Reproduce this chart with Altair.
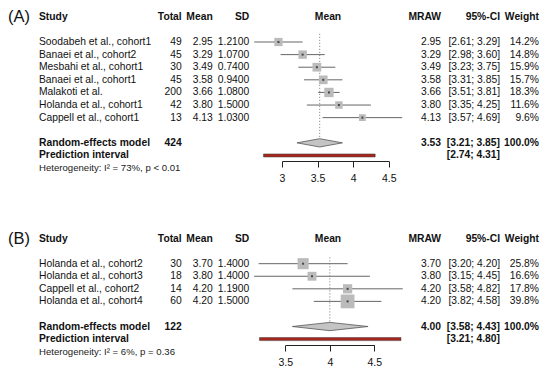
import altair as alt
import pandas as pd

FONT = "Liberation Sans"
FS = 10.3

# ---------------- Panel A data ----------------
studies_A = ["Soodabeh et al., cohort1", "Banaei et al., cohort2", "Mesbahi et al., cohort1",
             "Banaei et al., cohort1", "Malakoti et al.", "Holanda et al., cohort1",
             "Cappell et al., cohort1"]
total_A = [49, 45, 30, 45, 200, 42, 13]
mean_A = [2.95, 3.29, 3.49, 3.58, 3.66, 3.80, 4.13]
sd_A = [1.2100, 1.0700, 0.7400, 0.9400, 1.0800, 1.5000, 1.0300]
lo_A = [2.61, 2.98, 3.23, 3.31, 3.51, 3.35, 3.57]
hi_A = [3.29, 3.60, 3.75, 3.85, 3.81, 4.25, 4.69]
weight_A = [14.2, 14.8, 15.9, 15.7, 18.3, 11.6, 9.6]
summary_A = {"total": 424, "est": 3.53, "lo": 3.21, "hi": 3.85, "pi_lo": 2.74, "pi_hi": 4.31,
             "het": "Heterogeneity: I² = 73%, p < 0.01"}
ticks_A = [3, 3.5, 4, 4.5]

# ---------------- Panel B data ----------------
studies_B = ["Holanda et al., cohort2", "Holanda et al., cohort3", "Cappell et al., cohort2",
             "Holanda et al., cohort4"]
total_B = [30, 18, 14, 60]
mean_B = [3.70, 3.80, 4.20, 4.20]
sd_B = [1.4000, 1.4000, 1.1900, 1.5000]
lo_B = [3.20, 3.15, 3.58, 3.82]
hi_B = [4.20, 4.45, 4.82, 4.58]
weight_B = [25.8, 16.6, 17.8, 39.8]
summary_B = {"total": 122, "est": 4.00, "lo": 3.58, "hi": 4.43, "pi_lo": 3.21, "pi_hi": 4.80,
             "het": "Heterogeneity: I² = 6%, p = 0.36"}
ticks_B = [3.5, 4, 4.5]

W = 532
X_STUDY, X_TOTAL, X_MEAN, X_SD = 31, 173.7, 204.7, 241.3
X_FHEAD, X_MRAW, X_CI, X_WEIGHT = 320, 433, 492, 531


def panel(tag, studies, total, mean, sd, lo, hi, weight, summ, ticks,
          xdomain, xrange, ydomain, height, dot_top, size_max):
    n = len(studies)
    r_re, r_pi, r_het = n + 1, n + 2, n + 3.0
    ysc = alt.Scale(domain=ydomain, reverse=True, nice=False, zero=False)
    xsc = alt.Scale(domain=xdomain, range=xrange, nice=False, zero=False)
    ax = alt.Axis(values=ticks, format="~g", tickSize=6, labelPadding=6, domainColor="#222",
                  tickColor="#222", labelColor="#111", labelFont=FONT, labelFontSize=10.5,
                  grid=False, title=None, labelFlush=False, domainWidth=1, tickWidth=1)

    def X(f):
        return alt.X(f"{f}:Q", scale=xsc, axis=ax)

    def Y(f="r"):
        return alt.Y(f"{f}:Q", scale=ysc, axis=None)

    rows = pd.DataFrame({
        "r": list(range(n)),
        "study": studies,
        "total": [str(t) for t in total],
        "mn": [f"{m:.2f}" for m in mean],
        "sd": [f"{s:.4f}" for s in sd],
        "mraw": [f"{m:.2f}" for m in mean],
        "ci": [f"[{a:.2f}; {b:.2f}]" for a, b in zip(lo, hi)],
        "wtxt": [f"{w:.1f}%" for w in weight],
        "est": mean, "lo": lo, "hi": hi, "w": weight,
    })
    head = pd.DataFrame({"r": [-2], "study": ["Study"], "total": ["Total"], "mn": ["Mean"],
                         "sd": ["SD"], "fmean": ["Mean"], "mraw": ["MRAW"], "ci": ["95%-CI"],
                         "wtxt": ["Weight"], "tag": [tag]})
    stext = pd.DataFrame({
        "r": [r_re, r_pi],
        "study": ["Random-effects model", "Prediction interval"],
        "total": [str(summ["total"]), ""],
        "mraw": [f"{summ['est']:.2f}", ""],
        "ci": [f"[{summ['lo']:.2f}; {summ['hi']:.2f}]", f"[{summ['pi_lo']:.2f}; {summ['pi_hi']:.2f}]"],
        "wtxt": ["100.0%", ""],
    })
    het = pd.DataFrame({"r": [r_het], "t": [summ["het"]]})
    diamond = pd.DataFrame({"x": [summ["lo"], summ["est"], summ["hi"]],
                            "y": [r_re, r_re - 0.33, r_re],
                            "y2": [r_re, r_re + 0.33, r_re]})
    pi = pd.DataFrame({"lo": [summ["pi_lo"]], "hi": [summ["pi_hi"]],
                       "y1": [r_pi - 0.12], "y2": [r_pi + 0.12]})
    dot = pd.DataFrame({"est": [summ["est"]], "top": [dot_top], "bot": [r_re - 0.33]})

    def txt(df, field, x, align="right", bold=False, size=FS):
        return alt.Chart(df).mark_text(
            align=align, baseline="middle", font=FONT, fontSize=size,
            fontWeight="bold" if bold else "normal", color="#111"
        ).encode(x=alt.value(x), y=Y(), text=alt.Text(f"{field}:N"))

    layers = [
        txt(head, "tag", 0, align="left", size=16.5),
        txt(head, "study", X_STUDY, align="left", bold=True),
        txt(head, "total", X_TOTAL, bold=True),
        txt(head, "mn", X_MEAN, bold=True),
        txt(head, "sd", X_SD, bold=True),
        txt(head, "fmean", X_FHEAD, align="center", bold=True),
        txt(head, "mraw", X_MRAW, bold=True),
        txt(head, "ci", X_CI, bold=True),
        txt(head, "wtxt", X_WEIGHT, bold=True),
        txt(rows, "study", X_STUDY, align="left"),
        txt(rows, "total", X_TOTAL),
        txt(rows, "mn", X_MEAN),
        txt(rows, "sd", X_SD),
        txt(rows, "mraw", X_MRAW),
        txt(rows, "ci", X_CI),
        txt(rows, "wtxt", X_WEIGHT),
        txt(stext, "study", X_STUDY, align="left", bold=True),
        txt(stext, "total", X_TOTAL, bold=True),
        txt(stext, "mraw", X_MRAW, bold=True),
        txt(stext, "ci", X_CI, bold=True),
        txt(stext, "wtxt", X_WEIGHT, bold=True),
        alt.Chart(het).mark_text(align="left", baseline="middle", font=FONT, fontSize=9.6,
                                 color="#222").encode(x=alt.value(X_STUDY), y=Y(), text="t:N"),
        alt.Chart(dot).mark_rule(strokeDash=[1, 2], color="#777", strokeWidth=1).encode(
            x=X("est"), y=Y("top"), y2="bot"),
        alt.Chart(rows).mark_rule(color="#666", strokeWidth=1).encode(
            x=X("lo"), x2="hi", y=Y()),
        alt.Chart(rows).mark_square(filled=True, opacity=1, color="#bbbbbb").encode(
            x=X("est"), y=Y(),
            size=alt.Size("w:Q", scale=alt.Scale(domain=[0, max(weight)], range=[0, size_max]),
                          legend=None)),
        alt.Chart(rows).mark_square(filled=True, opacity=1, color="#444", size=4).encode(
            x=X("est"), y=Y()),
        alt.Chart(diamond).mark_area(fill="#c4c4c4", stroke="#555", strokeWidth=0.8,
                                     opacity=1).encode(x=X("x"), y=Y("y"), y2="y2"),
        alt.Chart(pi).mark_rect(fill="#a8261c", stroke="#3a3a3a", strokeWidth=0.5).encode(
            x=X("lo"), x2="hi", y=Y("y1"), y2="y2"),
    ]
    return alt.layer(*layers).properties(width=W, height=height)


pA = panel("(A)", studies_A, total_A, mean_A, sd_A, lo_A, hi_A, weight_A, summary_A, ticks_A,
           xdomain=[3, 4.5], xrange=[274, 380.7], ydomain=[-2.46, 9.44], height=150,
           dot_top=-0.65, size_max=190)
pB = panel("(B)", studies_B, total_B, mean_B, sd_B, lo_B, hi_B, weight_B, summary_B, ticks_B,
           xdomain=[3.5, 4.5], xrange=[277.3, 366.3], ydomain=[-2.76, 6.47], height=116,
           dot_top=-0.5, size_max=200)

chart = alt.vconcat(pA, pB, spacing=68, bounds="flush").properties(padding=0).configure_view(
    stroke=None)

chart.save("out.html", embed_options={"renderer": "svg", "actions": False})
